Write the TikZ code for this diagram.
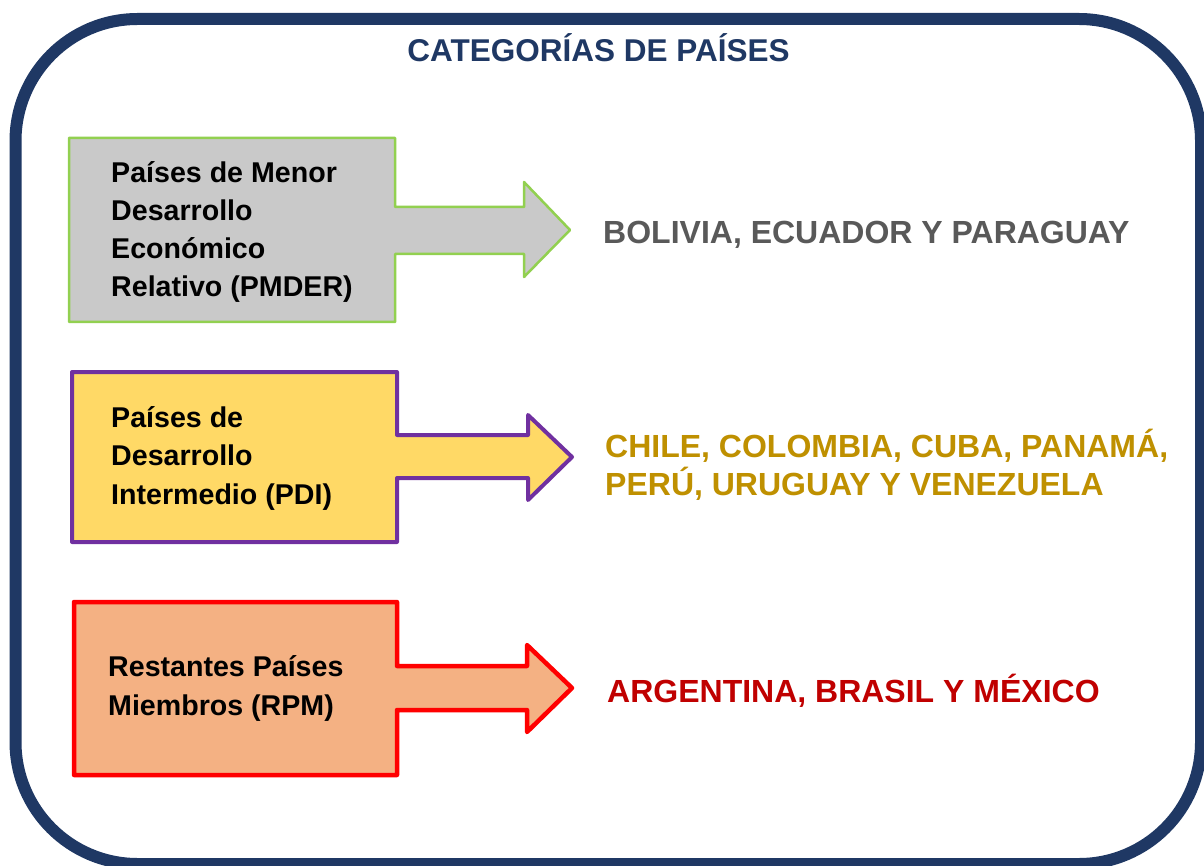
\documentclass[tikz,border=0pt]{standalone}
\usepackage{fontspec}
\setmainfont{Liberation Sans}
\definecolor{navy}{HTML}{1F3864}
\definecolor{boxgray}{HTML}{C9C9C9}
\definecolor{boxgreen}{HTML}{92D050}
\definecolor{boxyellow}{HTML}{FFD966}
\definecolor{boxpurple}{HTML}{7030A0}
\definecolor{boxpeach}{HTML}{F4B183}
\definecolor{boxred}{HTML}{FF0000}
\definecolor{txtgray}{HTML}{595959}
\definecolor{txtgold}{HTML}{BF9000}
\definecolor{txtred}{HTML}{C00000}
\tikzset{
  catlabel/.style={anchor=base west, inner sep=0pt, align=left, text=black,
    font=\fontsize{28.6}{38.3}\selectfont\bfseries},
  countrylabel/.style={anchor=base west, inner sep=0pt, align=left,
    font=\fontsize{32}{38}\selectfont\bfseries},
  arrowbox/.style={line join=round}
}
\begin{document}
\begin{tikzpicture}[x=1pt,y=-1pt]
\useasboundingbox (0,0) rectangle (1204,866);
\clip (0,0) rectangle (1204,866);
% outer frame
\draw[navy, line width=12pt, rounded corners=122pt, fill=white] (15.5,19) rectangle (1201,864);
% title
\node[anchor=base, inner sep=0pt, text=navy, font=\fontsize{31.5}{36}\selectfont\bfseries] (title) at (598.5,62) {CATEGORÍAS DE PAÍSES};
% arrow box 1
\draw[arrowbox, draw=boxgreen, fill=boxgray, line width=2.5pt]
  (69,138) -- (395,138) -- (395,207) -- (524,207) -- (524,182) -- (570,230)
  -- (524,277) -- (524,254) -- (395,254) -- (395,322) -- (69,322) -- cycle;
% arrow box 2
\draw[arrowbox, draw=boxpurple, fill=boxyellow, line width=4pt]
  (72,372) -- (397,372) -- (397,435) -- (528,435) -- (528,415) -- (572,457)
  -- (528,500) -- (528,478) -- (397,478) -- (397,542) -- (72,542) -- cycle;
% arrow box 3
\draw[arrowbox, draw=boxred, fill=boxpeach, line width=4.5pt]
  (74,602) -- (397,602) -- (397,666) -- (527,666) -- (527,645) -- (572,688)
  -- (527,732) -- (527,710) -- (397,710) -- (397,775) -- (74,775) -- cycle;
% category texts (base anchor = baseline of last line)
\node[catlabel] (pmder) at (111,297) {Países de Menor\\Desarrollo\\Económico\\Relativo (PMDER)};
\node[catlabel] (pdi) at (111,504) {Países de\\Desarrollo\\Intermedio (PDI)};
\node[catlabel] (rpm) at (108,715) {Restantes Países\\Miembros (RPM)};
% country texts
\node[countrylabel, text=txtgray] (c1) at (603,244) {BOLIVIA, ECUADOR Y PARAGUAY};
\node[countrylabel, text=txtgold] (c2) at (605,495) {CHILE, COLOMBIA, CUBA, PANAMÁ,\\PERÚ, URUGUAY Y VENEZUELA};
\node[countrylabel, text=txtred] (c3) at (607,702) {ARGENTINA, BRASIL Y MÉXICO};
\end{tikzpicture}
\end{document}
